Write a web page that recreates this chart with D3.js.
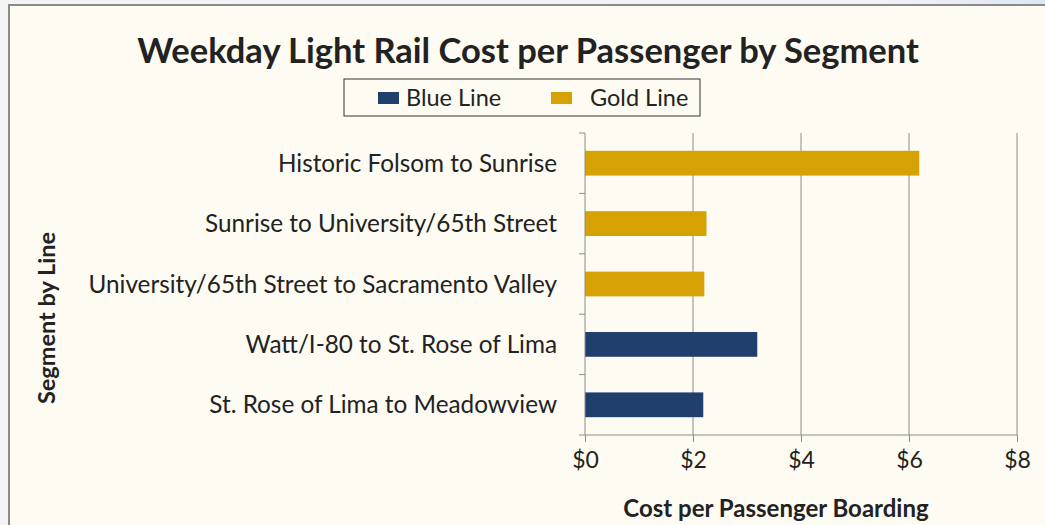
<!DOCTYPE html>
<html>
<head>
<meta charset="utf-8">
<script src="https://cdn.jsdelivr.net/npm/d3@7/dist/d3.min.js"></script>
<style>
  html, body { margin: 0; padding: 0; background: #ffffff; }
  svg { display: block; }
  text { font-family: Lato, "Open Sans", sans-serif; fill: #222; }
</style>
</head>
<body>
<svg id="chart" width="1045" height="525"></svg>
<script>
const categories = [
  "Historic Folsom to Sunrise",
  "Sunrise to University/65th Street",
  "University/65th Street to Sacramento Valley",
  "Watt/I-80 to St. Rose of Lima",
  "St. Rose of Lima to Meadowview"
];
const lines = ["Gold Line", "Gold Line", "Gold Line", "Blue Line", "Blue Line"];
const costs = [6.19, 2.25, 2.21, 3.19, 2.19];
const xTicks = [0, 2, 4, 6, 8];
const seriesNames = ["Blue Line", "Gold Line"];
const seriesColors = ["#213f6d", "#d6a102"];

const svg = d3.select("#chart");
const W = 1045, H = 525;

const defs = svg.append("defs");
const grad = defs.append("linearGradient").attr("id", "bg").attr("x1", "0").attr("x2", "1").attr("y1", "0").attr("y2", "0");
grad.append("stop").attr("offset", "0").attr("stop-color", "#f4f4f6");
grad.append("stop").attr("offset", "0.85").attr("stop-color", "#f0f2f8");
grad.append("stop").attr("offset", "1").attr("stop-color", "#dfe6f4");
svg.append("rect").attr("width", W).attr("height", H).attr("fill", "url(#bg)");

svg.append("rect").attr("x", 9).attr("y", 5).attr("width", W + 20).attr("height", H + 20)
  .attr("fill", "#fdfbf2").attr("stroke", "#8a8a86").attr("stroke-width", 2);

const margin = { left: 585, right: 1017, top: 133, bottom: 435 };
const color = d3.scaleOrdinal().domain(seriesNames).range(seriesColors);

const x = d3.scaleLinear().domain([0, 8]).range([margin.left, margin.right]);
const y = d3.scaleBand().domain(categories).range([margin.top, margin.bottom]).paddingInner(0.59).paddingOuter(0.295);

svg.append("g").selectAll("line").data(xTicks.filter(d => d > 0)).join("line")
  .attr("x1", d => x(d)).attr("x2", d => x(d))
  .attr("y1", margin.top).attr("y2", margin.bottom)
  .attr("stroke", "#8c8c8c").attr("stroke-width", 1);

const data = categories.map((c, i) => ({ cat: c, line: lines[i], v: costs[i] }));
svg.append("g").selectAll("rect").data(data).join("rect")
  .attr("x", x(0)).attr("y", d => y(d.cat))
  .attr("width", d => x(d.v) - x(0)).attr("height", y.bandwidth())
  .attr("fill", d => color(d.line));

const yAxisG = svg.append("g");
yAxisG.append("line").attr("x1", x(0)).attr("x2", x(0)).attr("y1", margin.top).attr("y2", margin.bottom)
  .attr("stroke", "#8c8c8c");
const boundaries = d3.range(categories.length + 1).map(i => margin.top + (margin.bottom - margin.top) * i / categories.length);
yAxisG.selectAll("line.tick").data(boundaries).join("line").attr("class", "tick")
  .attr("x1", x(0) - 6).attr("x2", x(0)).attr("y1", d => d).attr("y2", d => d)
  .attr("stroke", "#8c8c8c");
yAxisG.selectAll("text").data(categories).join("text")
  .attr("x", x(0) - 28).attr("y", d => y(d) + y.bandwidth() / 2)
  .attr("dy", "0.35em").attr("text-anchor", "end")
  .style("font-size", "24.3px").text(d => d);

const xAxis = d3.axisBottom(x).tickValues(xTicks).tickFormat(d => "$" + d).tickSize(7).tickPadding(10);
const xg = svg.append("g").attr("transform", `translate(0,${margin.bottom})`).call(xAxis);
xg.select(".domain").attr("stroke", "#8c8c8c").attr("d", `M${margin.left},0H${margin.right}`);
xg.selectAll(".tick line").attr("stroke", "#8c8c8c");
xg.selectAll(".tick text").style("font-size", "23px").attr("fill", "#222")
  .style("font-family", "Lato, 'Open Sans', sans-serif");

svg.append("text").attr("x", 528).attr("y", 63).attr("text-anchor", "middle")
  .style("font-size", "34.5px").style("font-weight", "bold").text("Weekday Light Rail Cost per Passenger by Segment");

svg.append("text").attr("x", 776).attr("y", 517).attr("text-anchor", "middle")
  .style("font-size", "24px").style("font-weight", "bold").text("Cost per Passenger Boarding");
svg.append("text").attr("transform", "translate(55,318) rotate(-90)").attr("text-anchor", "middle")
  .style("font-size", "23.5px").style("font-weight", "bold").text("Segment by Line");

const lg = svg.append("g");
lg.append("rect").attr("x", 344).attr("y", 79).attr("width", 356).attr("height", 37)
  .attr("fill", "#fdfbf2").attr("stroke", "#333").attr("stroke-width", 1);
const legendX = [378, 551];
const legendTextX = [406, 590];
seriesNames.forEach((s, i) => {
  lg.append("rect").attr("x", legendX[i]).attr("y", 92).attr("width", 21).attr("height", 12).attr("fill", color(s));
  lg.append("text").attr("x", legendTextX[i]).attr("y", 98).attr("dy", "0.35em")
    .style("font-size", "23.5px").text(s);
});
</script>
</body>
</html>
